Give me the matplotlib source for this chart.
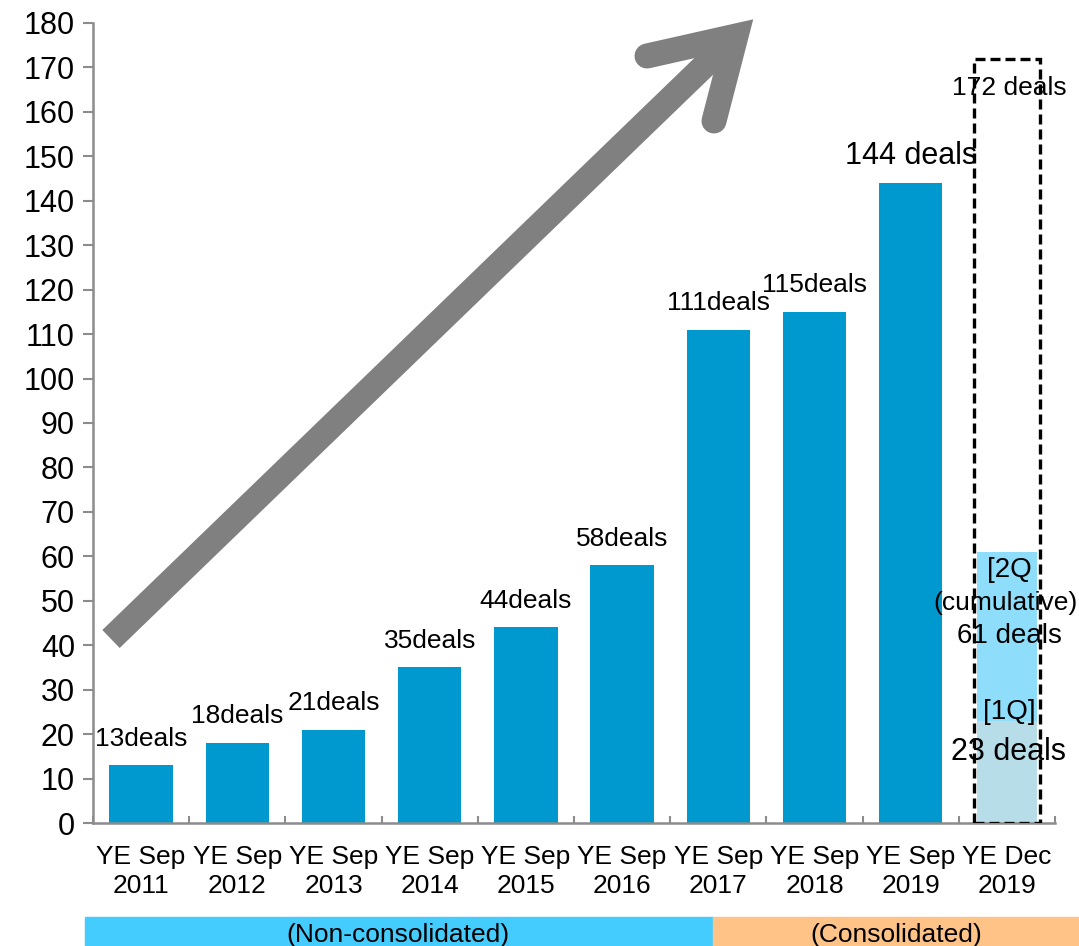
import numpy as np
import matplotlib
matplotlib.use('Agg')
import matplotlib.pyplot as plt
from matplotlib.patches import Rectangle
from matplotlib.lines import Line2D

plt.rcParams['font.family'] = ['Liberation Sans', 'DejaVu Sans']

# data
periods = ['YE Sep\n2011', 'YE Sep\n2012', 'YE Sep\n2013', 'YE Sep\n2014', 'YE Sep\n2015',
           'YE Sep\n2016', 'YE Sep\n2017', 'YE Sep\n2018', 'YE Sep\n2019', 'YE Dec\n2019']
deals = [13, 18, 21, 35, 44, 58, 111, 115, 144]
deal_labels = ['13deals', '18deals', '21deals', '35deals', '44deals', '58deals',
               '111deals', '115deals', '144 deals']
q1_deals = 23
q2_cum_deals = 61
fy_target = 172
yticks = np.arange(0, 181, 10)

bar_col = '#0099CF'
q1_col = '#B7DDE8'
q2_col = '#8EDDFB'
axis_col = '#8C8C8C'

fig = plt.figure(figsize=(10.79, 9.46), dpi=100)
ax = fig.add_axes([93/1079, 1-823/946, 962/1079, 800/946])

x = np.arange(len(deals))
ax.bar(x, deals, width=0.66, color=bar_col, zorder=2)

# last period: stacked quarters + dashed full-year box
last = len(periods) - 1
ax.bar(last, q1_deals, width=0.62, color=q1_col, zorder=2)
ax.bar(last, q2_cum_deals - q1_deals, bottom=q1_deals, width=0.62, color=q2_col, zorder=2)
ax.bar(last, fy_target, width=0.68, fill=False, edgecolor='black', linewidth=2.4,
       linestyle=(0, (3, 1.5)), zorder=3)

# labels over bars
for i, (v, lab) in enumerate(zip(deals, deal_labels)):
    fs = 22 if i == len(deals) - 1 else 19
    ax.text(i, v + 6, lab, ha='center', va='center', fontsize=fs, zorder=4)

ax.text(last + 0.02, fy_target - 6.6, '%d deals' % fy_target, ha='center', va='center', fontsize=19, zorder=4)
ax.text(last + 0.03, 57, '[2Q', ha='center', va='center', fontsize=20, zorder=4)
ax.text(last - 0.01, 49.5, '(cumulative)', ha='center', va='center', fontsize=19, zorder=4)
ax.text(last + 0.03, 42, '%d deals' % q2_cum_deals, ha='center', va='center', fontsize=20, zorder=4)
ax.text(last + 0.02, 25, '[1Q]', ha='center', va='center', fontsize=20, zorder=4)
ax.text(last + 0.02, 16, '%d deals' % q1_deals, ha='center', va='center', fontsize=22, zorder=4)

ax.set_xlim(-0.5, len(periods) - 0.5)
ax.set_ylim(0, 180)
ax.set_yticks(yticks)
ax.set_xticks(np.arange(len(periods)))
ax.set_xticklabels(periods, fontsize=19, linespacing=1.25)
ax.set_xticks(np.arange(-0.5, len(periods)), minor=True)
ax.tick_params(axis='x', which='major', length=0, pad=16)
ax.tick_params(axis='x', which='minor', direction='in', length=5, width=1.5, color=axis_col)
ax.tick_params(axis='y', direction='out', length=7, width=1.5, color=axis_col, labelsize=22, pad=6)

for s in ['top', 'right']:
    ax.spines[s].set_visible(False)
for s in ['left', 'bottom']:
    ax.spines[s].set_color(axis_col)
    ax.spines[s].set_linewidth(1.8)

# big grey trend arrow (figure coords)
def fx(px):
    return px / 1079
def fy(py):
    return 1 - py / 946

arrow_col = '#808080'
shaft = Line2D([fx(111), fx(730)], [fy(639), fy(41)], transform=fig.transFigure,
               color=arrow_col, linewidth=18, solid_capstyle='butt', zorder=5)
head = Line2D([fx(647), fx(736), fx(714)], [fy(56), fy(36), fy(121)], transform=fig.transFigure,
              color=arrow_col, linewidth=18, solid_capstyle='round', solid_joinstyle='miter', zorder=5)
fig.add_artist(shaft)
fig.add_artist(head)

# consolidation band at bottom
fig.add_artist(Rectangle((fx(85), 0), fx(713) - fx(85), fy(917), transform=fig.transFigure,
                         color='#45CCFF', zorder=1))
fig.add_artist(Rectangle((fx(713), 0), 1 - fx(713), fy(917), transform=fig.transFigure,
                         color='#FFC387', zorder=1))
fig.text(fx(398), fy(935), '(Non-consolidated)', ha='center', va='center', fontsize=19)
fig.text(fx(896), fy(935), '(Consolidated)', ha='center', va='center', fontsize=19)

fig.savefig('out.png', dpi=100)
